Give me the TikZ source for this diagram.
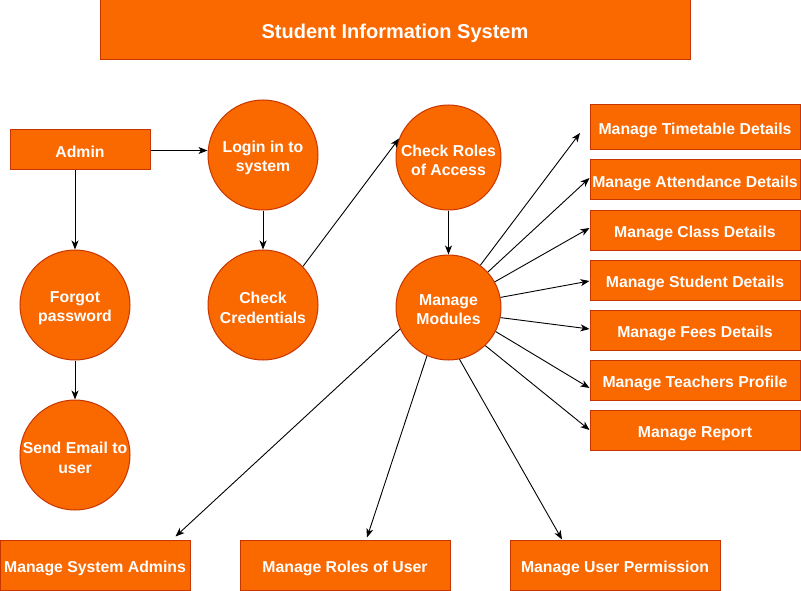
\documentclass[tikz,border=0pt]{standalone}
\usepackage{fontspec}
\setmainfont{Liberation Sans}
\usetikzlibrary{arrows.meta,calc}
\definecolor{boxfill}{HTML}{FA6800}
\definecolor{boxline}{HTML}{C73500}
\begin{document}
\begin{tikzpicture}[x=1pt,y=-1pt,
  txt/.style={font=\fontsize{15.8}{19.5}\selectfont\bfseries, text=white, align=center, inner sep=0pt},
  circtxt/.style={txt, yshift=-3pt},
  procbox/.style={draw=boxline, fill=boxfill, line width=1pt, inner sep=0pt, txt, text height=14.4pt, text depth=0pt},
  proccircle/.style={draw=boxline, fill=boxfill, circle, line width=1pt, inner sep=0pt},
  flow/.style={draw=black, line width=0.9pt, -{Stealth[length=9pt,width=7pt,inset=2.5pt]}}]
\useasboundingbox (0,0) rectangle (801,591);

% title
\node[procbox, minimum width=590pt, minimum height=60pt, font=\fontsize{20}{24}\selectfont\bfseries,
  text height=17.5pt] (title) at (395,30) {Student Information System};

% left column and login flow
\node[procbox, minimum width=140pt, minimum height=40pt] (admin) at (80,150) {Admin};
\node[proccircle, minimum size=110pt] (login) at (263,155) {};
\node[circtxt] (loginT) at (login) {Login in to\\system};
\node[proccircle, minimum size=110pt] (cred) at (263,305) {};
\node[circtxt] (credT) at (cred) {Check\\Credentials};
\node[proccircle, minimum size=110pt] (forgot) at (75,305) {};
\node[circtxt] (forgotT) at (forgot) {Forgot\\password};
\node[proccircle, minimum size=110pt] (email) at (75,455) {};
\node[circtxt] (emailT) at (email) {Send Email to\\user};

% access and modules
\node[proccircle, minimum size=105pt] (roles) at (448.5,157.5) {};
\node[circtxt] (rolesT) at (roles) {Check Roles\\of Access};
\node[proccircle, minimum size=105pt] (modules) at (448.5,307.5) {};
\node[txt] (modulesT) at ([yshift=-2pt]modules) {Manage\\Modules};

% module boxes on the right
\node[procbox, minimum width=210pt, minimum height=45pt] (tt)  at (695,127.5) {Manage Timetable Details};
\node[procbox, minimum width=210pt, minimum height=40pt] (att) at (695,180) {Manage Attendance Details};
\node[procbox, minimum width=210pt, minimum height=40pt] (cls) at (695,230) {Manage Class Details};
\node[procbox, minimum width=210pt, minimum height=40pt] (stu) at (695,280) {Manage Student Details};
\node[procbox, minimum width=210pt, minimum height=40pt] (fee) at (695,330) {Manage Fees Details};
\node[procbox, minimum width=210pt, minimum height=40pt] (tch) at (695,380) {Manage Teachers Profile};
\node[procbox, minimum width=210pt, minimum height=40pt] (rep) at (695,430) {Manage Report};

% module boxes at the bottom
\node[procbox, minimum width=190pt, minimum height=50pt] (sysadm)    at (95,565)  {Manage System Admins};
\node[procbox, minimum width=210pt, minimum height=50pt] (userroles) at (345,565) {Manage Roles of User};
\node[procbox, minimum width=210pt, minimum height=50pt] (perm)      at (615,565) {Manage User Permission};

\coordinate (ttend) at (580,133);

% connectors
\draw[flow] (admin.east |- 0,150.5) -- (login.west |- 0,150.5);
\draw[flow] (admin.south -| forgot.north) -- (forgot.north);
\draw[flow] (forgot.south) -- (email.north);
\draw[flow] (login.south) -- (cred.north);
\draw[flow] (cred.44) -- (roles.159);
\draw[flow] (roles.south) -- (modules.north);

\draw[flow] (modules.53) -- (ttend);
\draw[flow] (modules.42) -- ([yshift=2pt]att.west);
\draw[flow] (modules.29) -- ([yshift=2pt]cls.west);
\draw[flow] (modules.11) -- ([yshift=-1pt]stu.west);
\draw[flow] (modules.-11) -- ([yshift=1pt]fee.west);
\draw[flow] (modules.-27) -- ([yshift=-8pt]tch.west);
\draw[flow] (modules.-46) -- (rep.west);

\draw[flow] (modules.204) -- ([xshift=-15pt,yshift=3pt]sysadm.north east);
\draw[flow] (modules.246) -- ([xshift=22pt,yshift=2pt]userroles.north);
\draw[flow] (modules.282) -- ([xshift=-53pt]perm.north);
\end{tikzpicture}
\end{document}
